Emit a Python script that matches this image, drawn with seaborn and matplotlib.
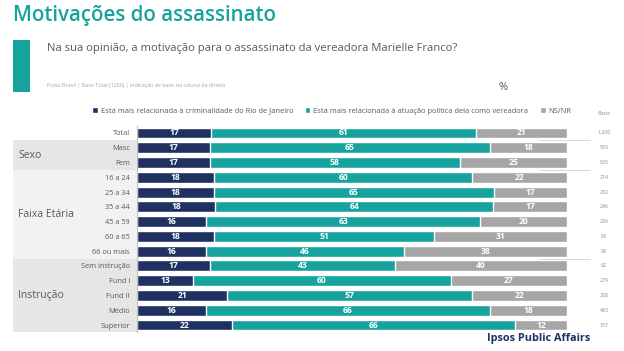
import numpy as np
import pandas as pd
import matplotlib
matplotlib.use('Agg')
import matplotlib.pyplot as plt
import matplotlib.transforms as mtransforms
from matplotlib.patches import Rectangle
import seaborn as sns

categories = ['Total', 'Masc', 'Fem', '16 a 24', '25 a 34', '35 a 44', '45 a 59',
              '60 a 65', '66 ou mais', 'Sem instrução', 'Fund I', 'Fund II', 'Médio', 'Superior']
crime = [17, 17, 17, 18, 18, 18, 16, 18, 16, 17, 13, 21, 16, 22]
politica = [61, 65, 58, 60, 65, 64, 63, 51, 46, 43, 60, 57, 66, 66]
nsnr = [21, 18, 25, 22, 17, 17, 20, 31, 38, 40, 27, 22, 18, 12]
bases = ['1.200', '565', '635', '214', '260', '246', '299', '83', '98', '62', '279', '268', '483', '107']
groups = [('Sexo', 1, 2), ('Faixa Etária', 3, 8), ('Instrução', 9, 13)]
series_names = ['Está mais relacionada à criminalidade do Rio de Janeiro',
                'Está mais relacionada à atuação política dela como vereadora',
                'NS/NR']

NAVY = '#1f3161'
TEAL = '#17a39d'
GRAY = '#a6a6a6'
TXT = '#595959'

sns.set_style('white')
plt.rcParams['font.family'] = ['Open Sans', 'DejaVu Sans']

df = pd.DataFrame({'cat': categories, 'a': crime, 'b': politica, 'c': nsnr})
tot = df[['a', 'b', 'c']].sum(axis=1)
df['s1'] = df['a'] / tot * 100
df['s2'] = (df['a'] + df['b']) / tot * 100
df['s3'] = 100.0

fig = plt.figure(figsize=(6.24, 3.51), dpi=100)
W, H = 624, 351
top_px, bot_px = 125.6, 332.4
ax = fig.add_axes([137 / W, 1 - bot_px / H, (567 - 137) / W, (bot_px - top_px) / H])

sns.barplot(data=df, x='s3', y='cat', color=GRAY, orient='h', width=0.74, ax=ax, saturation=1)
sns.barplot(data=df, x='s2', y='cat', color=TEAL, orient='h', width=0.74, ax=ax, saturation=1)
sns.barplot(data=df, x='s1', y='cat', color=NAVY, orient='h', width=0.74, ax=ax, saturation=1)
ax.set_xlim(0, 100)
ax.set_ylim(len(categories) - 0.5, -0.5)
ax.set_xlabel('')
ax.set_ylabel('')
ax.set_xticks([])
for s in ['top', 'right', 'bottom']:
    ax.spines[s].set_visible(False)
ax.spines['left'].set_color('#bfbfbf')
ax.spines['left'].set_linewidth(0.8)
ax.tick_params(axis='y', length=2, color='#bfbfbf', labelsize=5.3, labelcolor=TXT, pad=3)

for i, row in df.iterrows():
    ax.text(row['s1'] / 2, i, str(row['a']), color='white', ha='center', va='center',
            fontsize=6.2, fontweight='bold')
    ax.text((row['s1'] + row['s2']) / 2, i, str(row['b']), color='white', ha='center',
            va='center', fontsize=6.2, fontweight='bold')
    ax.text((row['s2'] + 100) / 2, i, str(row['c']), color='white', ha='center',
            va='center', fontsize=6.2, fontweight='bold')

# group bands on the left
bt = mtransforms.blended_transform_factory(fig.transFigure, ax.transData)
band_cols = ['#e6e6e6', '#f2f2f2', '#e6e6e6']
for (name, r0, r1), col in zip(groups, band_cols):
    rect = Rectangle((13 / W, r0 - 0.5), (137 - 13) / W, r1 - r0 + 1, transform=bt,
                     facecolor=col, edgecolor='none', clip_on=False, zorder=-5)
    ax.add_patch(rect)
    ax.text(18 / W, (r0 + r1) / 2, name, transform=bt, ha='left', va='center',
            fontsize=7.5, color=TXT)
    ax.plot([540 / W, 590 / W], [r0 - 0.5, r0 - 0.5], transform=bt, color='#d9d9d9',
            lw=0.7, clip_on=False)

# bases column
for i, b in enumerate(bases):
    ax.text(604 / W, i, b, transform=bt, ha='center', va='center', fontsize=3.8, color='#8c8c8c')
fig.text(604 / W, 1 - 114 / H, 'Bases', ha='center', va='center', fontsize=3.8,
         color='#8c8c8c', style='italic')

# header
fig.text(13 / W, 1 - 16 / H, 'Motivações do assassinato', ha='left', va='center',
         fontsize=14.8, color=TEAL, fontweight='semibold')
fig.patches.append(Rectangle((13 / W, 1 - 92 / H), 17 / W, 52 / H, transform=fig.transFigure,
                             facecolor=TEAL, edgecolor='none'))
fig.text(47 / W, 1 - 48 / H, 'Na sua opinião, a motivação para o assassinato da vereadora Marielle Franco?',
         ha='left', va='center', fontsize=8.1, color=TXT)
fig.text(47 / W, 1 - 85 / H, 'Pulso Brasil | Base Total (1200) | indicação de base na coluna da direita',
         ha='left', va='center', fontsize=3.9, color='#a6a6a6')
fig.text(503 / W, 1 - 88 / H, '%', ha='center', va='center', fontsize=8, color=TXT)

# legend
handles = [Rectangle((0, 0), 1, 1, facecolor=c) for c in [NAVY, TEAL, GRAY]]
fig.legend(handles, series_names, loc='center', bbox_to_anchor=(332 / W, 1 - 111 / H),
           ncol=3, frameon=False, fontsize=5.4, handlelength=0.7, handleheight=0.7,
           handletextpad=0.4, columnspacing=1.6, labelcolor=TXT)

fig.text(590 / W, 1 - 338 / H, 'Ipsos Public Affairs', ha='right', va='center',
         fontsize=7.8, color=NAVY, fontweight='bold')

fig.savefig('out.png', dpi=100)
